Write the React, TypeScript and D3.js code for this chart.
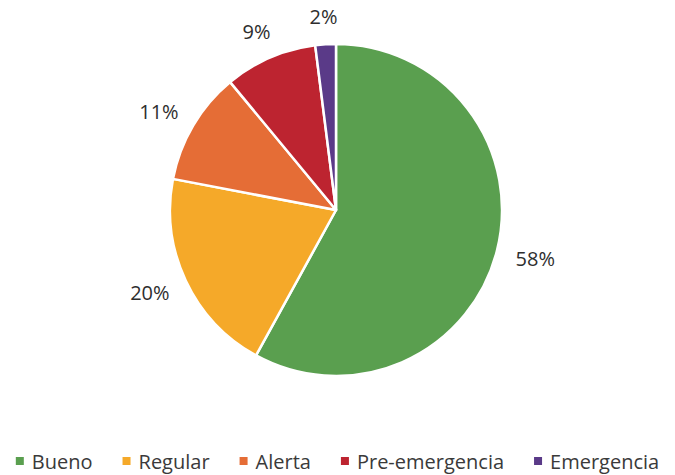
import React, { useEffect, useRef } from "react";
import * as d3 from "d3";

const categories = ["Bueno", "Regular", "Alerta", "Pre-emergencia", "Emergencia"];
const values = [58, 20, 11, 9, 2];
const colors = ["#5a9f4f", "#f5a929", "#e56d36", "#bd2430", "#5a3a88"];

const W = 675;
const H = 475;

export default function App() {
  const ref = useRef<SVGSVGElement | null>(null);

  useEffect(() => {
    const svg = d3.select(ref.current);
    svg.selectAll("*").remove();

    const cx = 336;
    const cy = 210;
    const r = 166;
    const gap = 20;

    const data = categories.map((c, i) => ({ name: c, value: values[i], color: colors[i] }));
    const pie = d3.pie<any>().sort(null).value((d: any) => d.value);
    const arcs = pie(data);
    const arc = d3.arc<any>().innerRadius(0).outerRadius(r);

    const g = svg.append("g").attr("transform", `translate(${cx},${cy})`);
    g.selectAll("path.slice")
      .data(arcs)
      .enter()
      .append("path")
      .attr("class", "slice")
      .attr("d", arc as any)
      .attr("fill", (d: any) => d.data.color)
      .attr("stroke", "#ffffff")
      .attr("stroke-width", 2.5)
      .attr("stroke-linejoin", "round");

    const labels = g
      .selectAll("text.lbl")
      .data(arcs)
      .enter()
      .append("text")
      .attr("class", "lbl")
      .attr("text-anchor", "middle")
      .attr("dominant-baseline", "central")
      .attr("font-family", "'Open Sans', sans-serif")
      .attr("font-size", 20)
      .attr("fill", "#2e2e2e")
      .text((d: any) => `${d.data.value}%`);

    labels.each(function (d: any) {
      const t = this as SVGTextElement;
      const hw = t.getComputedTextLength() / 2;
      const hh = 8;
      const a = (d.startAngle + d.endAngle) / 2;
      const ux = Math.sin(a);
      const uy = -Math.cos(a);
      const x = (r + gap) * ux + hw * ux;
      const y = (r + gap) * uy + hh * uy;
      d3.select(t).attr("transform", `translate(${x},${y})`);
    });

    // legend
    const lg = svg.append("g").attr("class", "legend");
    const items = lg
      .selectAll("g.item")
      .data(data)
      .enter()
      .append("g")
      .attr("class", "item");
    items
      .append("rect")
      .attr("width", 8)
      .attr("height", 8)
      .attr("y", -4)
      .attr("fill", (d: any) => d.color);
    items
      .append("text")
      .attr("x", 16)
      .attr("dominant-baseline", "central")
      .attr("font-family", "'Open Sans', sans-serif")
      .attr("font-size", 20)
      .attr("fill", "#3a3a3a")
      .text((d: any) => d.name);

    let x = 0;
    const lgap = 30;
    items.each(function () {
      const node = this as SVGGElement;
      const t = node.querySelector("text") as SVGTextElement;
      const w = 16 + t.getComputedTextLength();
      d3.select(node).attr("transform", `translate(${x},0)`);
      x += w + lgap;
    });
    const total = x - lgap;
    lg.attr("transform", `translate(${(W - total) / 2},461)`);
  }, []);

  return (
    <svg
      ref={ref}
      width={W}
      height={H}
      style={{ position: "absolute", left: 0, top: 0, background: "#ffffff" }}
    />
  );
}
